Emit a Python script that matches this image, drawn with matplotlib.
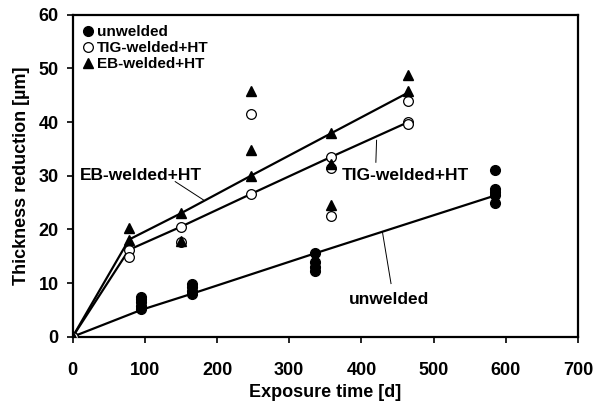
import matplotlib
matplotlib.use('Agg')
import matplotlib.pyplot as plt

plt.rcParams['font.family'] = ['Liberation Sans', 'DejaVu Sans']
plt.rcParams['font.weight'] = 'bold'

# measured points
unw_x = [0, 95, 95, 95, 95, 95, 165, 165, 165, 165, 335, 335, 335, 335, 585, 585, 585, 585, 585]
unw_y = [0, 5.2, 5.8, 6.4, 7.0, 7.4, 8.0, 8.6, 9.2, 9.8, 15.6, 14.0, 13.0, 12.2, 31.0, 27.6, 27.0, 26.4, 25.0]

tig_x = [0, 78, 78, 150, 150, 247, 247, 358, 358, 358, 465, 465, 465]
tig_y = [0, 16.2, 14.8, 20.5, 17.7, 41.5, 26.6, 33.5, 31.4, 22.5, 44.0, 40.0, 39.6]

eb_x = [0, 78, 78, 150, 150, 247, 247, 247, 358, 358, 358, 465, 465]
eb_y = [0, 20.2, 18.1, 23.0, 17.8, 45.8, 34.8, 30.0, 37.9, 32.1, 24.5, 48.8, 45.8]

# fitted curves
eb_fit_x = [0, 78, 150, 247, 358, 465]
eb_fit_y = [0, 18.1, 23.0, 30.0, 37.9, 45.5]
tig_fit_x = [0, 78, 150, 247, 358, 465]
tig_fit_y = [0, 16.2, 20.5, 26.6, 33.5, 40.0]
unw_fit_x = [0, 95, 165, 335, 585]
unw_fit_y = [0, 5.0, 8.0, 15.5, 26.3]

fig = plt.figure(figsize=(5.94, 4.07), dpi=100)
ax = fig.add_axes([0.1224, 0.1727, 0.8506, 0.7912])

ax.plot(eb_fit_x, eb_fit_y, color='black', lw=1.6, zorder=2)
ax.plot(tig_fit_x, tig_fit_y, color='black', lw=1.6, zorder=2)
ax.plot(unw_fit_x, unw_fit_y, color='black', lw=1.6, zorder=2)

ax.plot(unw_x, unw_y, 'o', color='black', ms=7, ls='none', label='unwelded', zorder=3)
ax.plot(tig_x, tig_y, 'o', mfc='white', mec='black', mew=0.9, ms=7, ls='none',
        label='TIG-welded+HT', zorder=3)
ax.plot(eb_x, eb_y, '^', color='black', ms=7, ls='none', label='EB-welded+HT', zorder=4)

# curve labels with leader lines
ax.text(94, 30.0, 'EB-welded+HT', ha='center', va='center', fontsize=12.5, fontweight='bold')
ax.plot([142, 181], [28.9, 25.5], color='black', lw=0.7)
ax.text(461, 30.1, 'TIG-welded+HT', ha='center', va='center', fontsize=12.5, fontweight='bold')
ax.plot([421, 420], [36.6, 32.5], color='black', lw=0.7)
ax.text(438, 7.0, 'unwelded', ha='center', va='center', fontsize=12.5, fontweight='bold')
ax.plot([429, 441], [19.6, 9.9], color='black', lw=0.7)

ax.set_xlim(0, 700)
ax.set_ylim(0, 60)
ax.set_xticks(range(0, 701, 100))
ax.set_yticks(range(0, 61, 10))
ax.tick_params(direction='out', length=4, width=1.2, labelsize=13)
ax.tick_params(axis='x', pad=14)
ax.tick_params(axis='y', pad=6)
for lbl in ax.get_xticklabels() + ax.get_yticklabels():
    lbl.set_fontweight('bold')
for s in ax.spines.values():
    s.set_linewidth(1.6)

ax.set_xlabel('Exposure time [d]', fontsize=13, fontweight='bold', labelpad=4)
ax.set_ylabel('Thickness reduction [µm]', fontsize=13, fontweight='bold', labelpad=6)

ax.legend(loc='upper left', frameon=False, handlelength=0.6,
          handletextpad=0.3, labelspacing=0.12, borderaxespad=0.4, borderpad=0.3,
          prop={'weight': 'bold', 'size': 11})

plt.savefig('out.png', dpi=100)
